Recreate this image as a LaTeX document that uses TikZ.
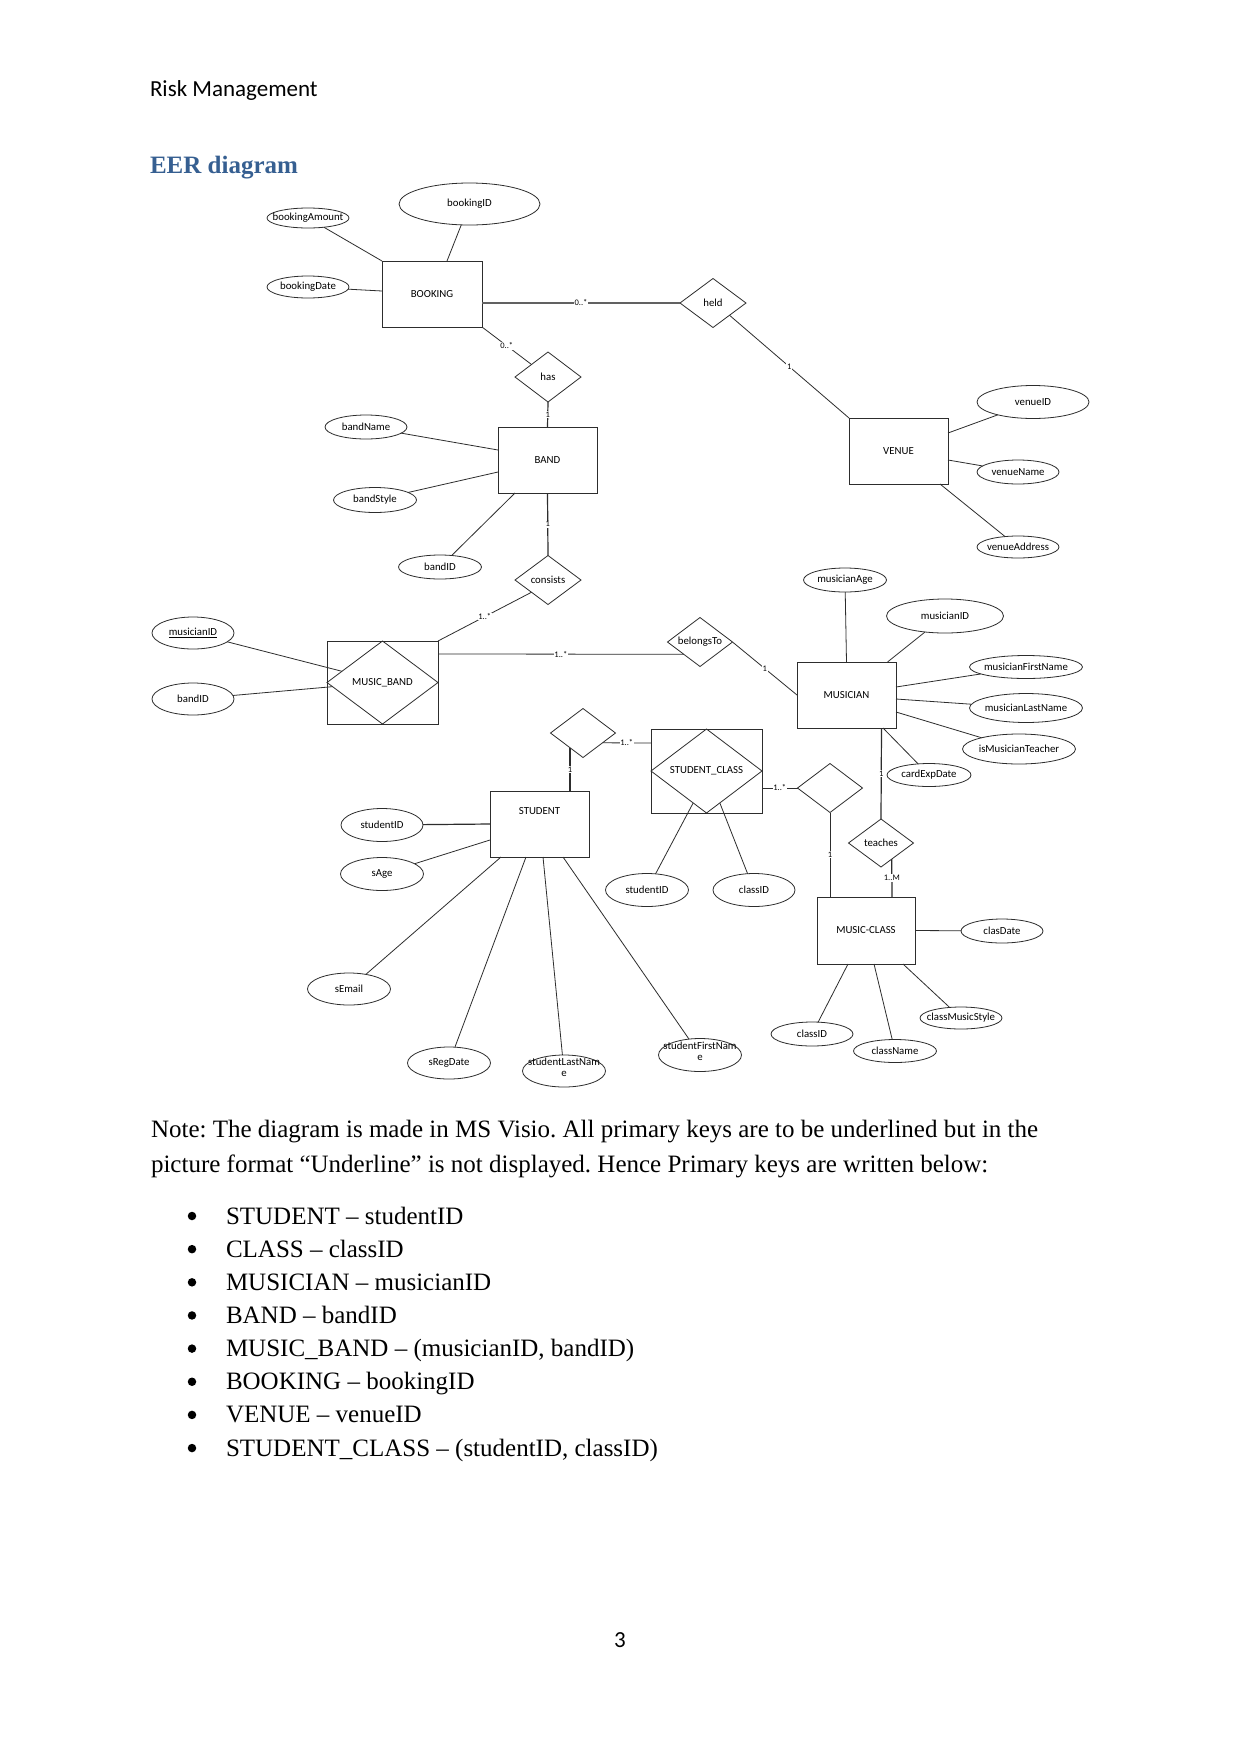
\documentclass[tikz,border=0pt]{standalone}
\usepackage{fontspec}
\setmainfont{Liberation Serif}
\newfontfamily\carlito{Carlito}
\usetikzlibrary{shapes.geometric,calc}
\definecolor{headblue}{RGB}{54,95,145}
\definecolor{ink}{RGB}{45,45,45}
\newcommand\dfont{\carlito\fontsize{10.8}{12}\selectfont}
\newcommand\cfont{\carlito\fontsize{8.5}{9}\selectfont}
\newcommand\zw[1]{\makebox[0pt]{#1}}
\frenchspacing
\begin{document}
\begin{tikzpicture}[x=1pt,y=-1pt,
  every node/.style={inner sep=0pt,outer sep=0pt},
  ent/.style={draw=ink,rectangle,line width=0.9pt,font=\dfont},
  attr/.style={draw=ink,ellipse,line width=0.8pt,font=\dfont},
  rel/.style={draw=ink,diamond,line width=0.8pt,font=\dfont},
  conn/.style={draw=ink,line width=0.8pt},
  rconn/.style={draw=ink,line width=1.2pt},
  heavy/.style={draw=ink!75,line width=2pt},
  card/.style={fill=white,font=\cfont,inner sep=0.8pt},
  body/.style={anchor=base west,font=\frenchspacing\fontsize{25}{30}\selectfont}]
\useasboundingbox (0,0) rectangle (1241,1754);
\fill[white] (0,0) rectangle (1241,1754);

% page texts
\node[anchor=base west,font=\carlito\fontsize{23}{28}\selectfont] (hdr) at (150,96) {Risk Management};
\node[anchor=base west,font=\bfseries\fontsize{25}{30}\selectfont,text=headblue] (ttl) at (150,173) {EER diagram};
\node[body] (note1) at (151,1137) {Note: The diagram is made in MS Visio. All primary keys are to be underlined but in the};
\node[body] (note2) at (151,1172) {picture format “Underline” is not displayed. Hence Primary keys are written below:};
\foreach \t [count=\i] in {{STUDENT – studentID},{CLASS – classID},{MUSICIAN – musicianID},{BAND – bandID},{MUSIC\_BAND – (musicianID, bandID)},{BOOKING – bookingID},{VENUE – venueID},{STUDENT\_CLASS – (studentID, classID)}}{
  \node[circle,fill=black,minimum size=8.5] (bul\i) at (192,{1224+(\i-1)*33.15-8}) {};
  \node[body] (item\i) at (226,{1224+(\i-1)*33.15}) {\t};
}
\node[anchor=base,font=\carlito\fontsize{23}{28}\selectfont] (pageno) at (620,1647) {3};

% entities, attributes, relationships
\node[ent,minimum width=100,minimum height=66] (booking) at (432,294) {BOOKING};
\node[attr,minimum width=141,minimum height=42] (bookingID) at (469.5,204) {\zw{bookingID}};
\node[attr,minimum width=82,minimum height=20] (bookingAmount) at (308,218) {\zw{bookingAmount}};
\node[attr,minimum width=82,minimum height=22] (bookingDate) at (308,287) {\zw{bookingDate}};
\node[rel,minimum width=66,minimum height=49] (held) at (713,303) {\zw{held}};
\node[rel,minimum width=66,minimum height=50] (has) at (548,377) {\zw{has}};
\node[ent,minimum width=99,minimum height=66] (venue) at (898.5,451) {VENUE};
\node[attr,minimum width=112,minimum height=33] (venueID) at (1033,402) {\zw{venueID}};
\node[attr,minimum width=82,minimum height=24] (venueName) at (1018,472) {\zw{venueName}};
\node[attr,minimum width=82,minimum height=22] (venueAddress) at (1018,547) {\zw{venueAddress}};
\node[ent,minimum width=99,minimum height=66] (band) at (547.5,460) {BAND};
\node[attr,minimum width=82,minimum height=24] (bandName) at (366,427) {\zw{bandName}};
\node[attr,minimum width=83,minimum height=25] (bandStyle) at (375,500) {\zw{bandStyle}};
\node[attr,minimum width=83,minimum height=24] (bandID) at (440,567) {\zw{bandID}};
\node[rel,minimum width=66,minimum height=49] (consists) at (548,580) {\zw{consists}};
\node[ent,minimum width=111,minimum height=83] (mb) at (382.5,682.5) {};
\node[rel,minimum width=111,minimum height=83] (mbd) at (382.5,682.5) {\zw{MUSIC\_BAND}};
\node[attr,minimum width=82,minimum height=32] (mbMusicianID) at (193,633) {\zw{\underline{musicianID}}};
\node[attr,minimum width=82,minimum height=32] (mbBandID) at (193,699) {\zw{bandID}};
\node[rel,minimum width=65,minimum height=49] (belongsTo) at (700,642) {\zw{belongsTo}};
\node[ent,minimum width=99,minimum height=66] (musician) at (846.5,695) {MUSICIAN};
\node[attr,minimum width=83,minimum height=24] (musicianAge) at (845,580) {\zw{musicianAge}};
\node[attr,minimum width=117,minimum height=34] (musicianID) at (945,616) {\zw{musicianID}};
\node[attr,minimum width=113,minimum height=23] (mFirst) at (1026,667) {\zw{musicianFirstName}};
\node[attr,minimum width=113,minimum height=29] (mLast) at (1026,708) {\zw{musicianLastName}};
\node[attr,minimum width=113,minimum height=30] (mTeacher) at (1019,749) {\zw{isMusicianTeacher}};
\node[attr,minimum width=84,minimum height=23] (cardExp) at (929,775) {\zw{cardExpDate}};
\node[rel,minimum width=65,minimum height=48] (teaches) at (881,843) {\zw{teaches}};
\node[ent,minimum width=98,minimum height=67] (mc) at (866,930.5) {MUSIC-CLASS};
\node[attr,minimum width=82,minimum height=24] (clasDate) at (1002,931) {\zw{clasDate}};
\node[attr,minimum width=82,minimum height=24] (mcClassID) at (812,1034) {\zw{classID}};
\node[attr,minimum width=83,minimum height=23] (className) at (895,1051) {\zw{className}};
\node[attr,minimum width=82,minimum height=22] (classMusicStyle) at (961,1018) {\zw{classMusicStyle}};
\node[ent,minimum width=111,minimum height=84] (sc) at (706.5,771) {};
\node[rel,minimum width=111,minimum height=84] (scd) at (706.5,771) {\zw{STUDENT\_CLASS}};
\node[attr,minimum width=83,minimum height=33] (scStudentID) at (647,890) {\zw{studentID}};
\node[attr,minimum width=82,minimum height=33] (scClassID) at (754,890) {\zw{classID}};
\node[rel,minimum width=65,minimum height=49] (d1) at (583,733) {};
\node[rel,minimum width=65,minimum height=49] (d2) at (830,788) {};
\node[ent,minimum width=99,minimum height=66] (student) at (539.5,824) {\raisebox{9.5pt}[0pt][0pt]{STUDENT}};
\node[attr,minimum width=82,minimum height=33] (studentID) at (382,825) {\zw{studentID}};
\node[attr,minimum width=83,minimum height=33] (sAge) at (382,874) {\zw{sAge}};
\node[attr,minimum width=83,minimum height=32] (sEmail) at (349,989) {\zw{sEmail}};
\node[attr,minimum width=83,minimum height=32] (sRegDate) at (449,1063) {\zw{sRegDate}};
\node[attr,minimum width=83,minimum height=32] (sLast) at (564,1071) {\zw{\smash{\begin{tabular}{@{}c@{}}studentLastNam\\[-1pt]e\end{tabular}}}};
\node[attr,minimum width=83,minimum height=33] (sFirst) at (700,1055) {\zw{\smash{\begin{tabular}{@{}c@{}}studentFirstNam\\[-1pt]e\end{tabular}}}};

% connectors
\draw[conn] (bookingAmount) -- (booking.north west);
\draw[conn] (bookingID) -- ([xshift=15pt]booking.north);
\draw[conn] (bookingDate) -- ([yshift=3pt]booking.west);
\draw[heavy] ([yshift=-9pt]booking.east) -- node[card]{0..*} (held.west);
\draw[conn] (booking.south east) -- node[card]{0..*} (has.north west);
\draw[conn] (held.south east) -- node[card]{1} (venue.north west);
\draw[conn] ([yshift=18pt]venue.east) -- (venueID);
\draw[conn] ([yshift=-9pt]venue.east) -- (venueName);
\draw[conn] ([xshift=-8pt]venue.south east) -- (venueAddress);
\draw[rconn] (has.south) -- node[card]{1} (band.north);
\draw[conn] (bandName) -- ([yshift=10pt]band.west);
\draw[conn] (bandStyle) -- ([yshift=-12pt]band.west);
\draw[conn] (bandID) -- ([xshift=17pt]band.south west);
\draw[rconn] (band.south) -- node[card]{1} (consists.north);
\draw[conn] (consists.south west) -- node[card]{1..*} (mb.north east);
\draw[conn] ([yshift=28.5pt]mb.east) -- node[card]{1..*} (belongsTo.south west);
\draw[conn] (belongsTo.east) -- node[card]{1} (musician.west);
\draw[conn] (mbMusicianID) -- ($(mbd.west)!0.27!(mbd.north)$);
\draw[conn] (mbBandID) -- ($(mbd.west)!0.1!(mbd.south)$);
\draw[conn] (musicianAge) -- (musician.north);
\draw[conn] (musicianID) -- ([xshift=-8.5pt]musician.north east);
\draw[conn] (mFirst) -- ([yshift=8pt]musician.east);
\draw[conn] (mLast) -- ([yshift=-4pt]musician.east);
\draw[conn] (mTeacher) -- ([yshift=-17pt]musician.east);
\draw[conn] (cardExp) -- ([xshift=-13pt]musician.south east);
\draw[rconn] ([xshift=35pt]musician.south) -- node[card]{1} (teaches.north);
\draw[rconn] ($(teaches.south)!0.33!(teaches.east)$) -- node[card]{1..M} ([xshift=26pt]mc.north);
\draw[conn] (mc.east) -- (clasDate);
\draw[conn] (mcClassID) -- ([xshift=-18pt]mc.south);
\draw[conn] (className) -- ([xshift=8pt]mc.south);
\draw[conn] (classMusicStyle) -- ([xshift=-12pt]mc.south east);
\draw[conn] (d2.south) -- node[card]{1} (d2.south |- mc.north);
\draw[conn] ([yshift=-17pt]sc.east) -- node[card]{1..*} (d2.west);
\draw[conn] ($(d1.east)!0.4!(d1.south)$) -- node[card]{1..*} ([yshift=28pt]sc.west);
\coordinate (p1) at ($(d1.west)!0.6!(d1.south)$);
\draw[rconn] (p1) -- node[card]{1} (p1 |- student.north);
\draw[rconn] (studentID) -- (student.west);
\draw[conn] (sAge) -- ([yshift=-16pt]student.west);
\draw[conn] (sEmail) -- ([xshift=11pt]student.south west);
\draw[conn] (sRegDate) -- ([xshift=36pt]student.south west);
\draw[conn] (sLast) -- ([xshift=53pt]student.south west);
\draw[conn] (sFirst) -- ([xshift=73pt]student.south west);
\draw[conn] (scStudentID) -- ($(scd.west)!0.76!(scd.south)$);
\draw[conn] (scClassID) -- ($(scd.east)!0.76!(scd.south)$);
\end{tikzpicture}
\end{document}
